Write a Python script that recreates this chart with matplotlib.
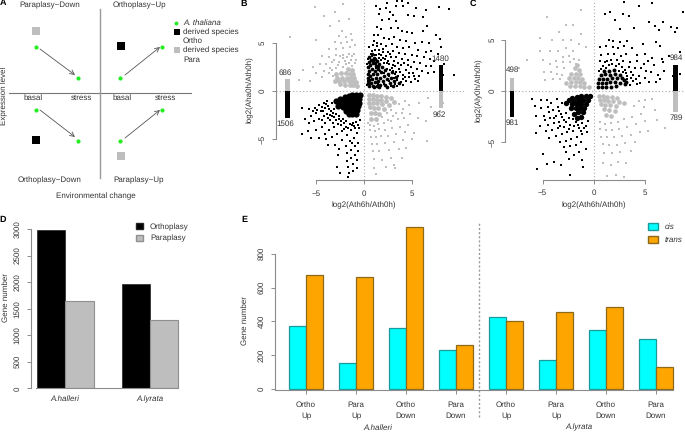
import matplotlib
matplotlib.use("Agg")
import matplotlib.pyplot as plt
from matplotlib.patches import Patch

plt.rcParams['font.family'] = ['Liberation Sans', 'DejaVu Sans']
plt.rcParams['text.hinting'] = 'no_hinting'
plt.rcParams['text.hinting_factor'] = 1
W, H = 685, 432
TXT = "#333333"; AX = "#8c8c8c"; GREY = "#bebebe"; FS = 6.1

# ---------- Panel D / E data
species = ["A.halleri", "A.lyrata"]
ortho_total = [2986, 1965]
para_total = [1648, 1287]
e_top = ["Ortho", "Para", "Ortho", "Para", "Ortho", "Para", "Ortho", "Para"]
e_bot = ["Up", "Up", "Down", "Down", "Up", "Up", "Down", "Down"]
cis_n = [372, 152, 358, 230, 424, 170, 352, 296]
trans_n = [672, 664, 960, 263, 400, 456, 483, 130]

# ---------- Panel B data, log2 ratios
b_up = [(1.2,8.9),(1.7,8.5),(1.6,8.0),(2.4,9.2),(3.4,9.4),(3.3,8.9),(3.9,9.4),(4.6,9.2),(4.1,8.9),(2.7,8.2),(2.3,8.6),(3.0,7.9),
(1.9,7.4),(2.6,7.5),(3.3,7.3),(4.6,7.9),(5.2,7.8),(6.1,7.7),(7.8,8.8),(8.8,8.5),(6.4,8.4),(5.4,8.6),(1.4,6.7),(1.8,6.5),(2.8,6.6),
(3.5,6.6),(3.9,6.2),(4.5,6.1),(5.0,6.0),(6.1,6.3),(6.5,6.8),(7.5,5.8),(7.9,5.4),(1.0,5.8),(1.5,5.8),(2.1,5.5),(2.6,5.4),(3.1,5.6),
(3.7,5.3),(4.4,5.2),(5.3,5.0),(6.0,5.1),(6.8,5.0),(8.0,4.6),(1.0,5.2),(0.9,4.8),(1.4,5.0),(1.8,4.9),(2.3,4.7),(2.9,4.9),(3.4,4.6),
(4.0,4.5),(4.7,4.6),(5.6,4.3),(6.4,4.1),(7.0,4.2),(7.7,3.9),(1.1,4.3),(1.6,4.3),(2.0,4.4),(2.5,4.1),(3.0,4.2),(3.6,4.0),(4.3,3.9),
(5.0,3.8),(5.5,3.6),(6.2,3.5),(6.9,3.3),(7.3,3.1),(0.7,3.9),(1.2,3.8),(1.8,3.7),(2.3,3.6),(2.8,3.5),(3.3,3.5),(3.9,3.3),(4.6,3.2),
(5.2,3.0),(5.8,2.9),(6.4,2.6),(7.0,2.6),(8.3,2.8),(4.2,2.9),(4.9,2.5),(5.5,2.3),(6.0,2.1),(6.6,1.9),(7.3,2.0),(8.2,1.7),(9.3,1.7),
(3.5,2.9),(3.0,2.7),(4.4,2.2),(5.1,1.9),(5.7,1.6),(4.1,1.7),(3.6,2.3),(4.7,1.5),(5.3,1.3),(4.0,1.2),(3.4,1.1),(3.0,2.1),(2.6,2.8),
(0.55,4.55),(0.83,4.12),(1.37,4.64),(1.93,4.08),(2.21,3.33),(2.67,3.87),(3.13,3.12),(0.62,3.42),(1.07,3.08),(1.53,3.41),(2.08,2.87),
(2.47,3.16),(2.93,2.43),(3.27,2.58),(3.83,2.66),(4.53,2.71),(3.71,1.94),(3.22,1.73),(2.74,2.17),(2.36,2.93),(1.73,3.19),(1.26,2.37),
(0.74,2.56),(1.04,1.63),(1.66,2.13),(2.12,1.83),(2.63,1.52),(3.07,1.37),(3.52,1.58),(4.22,1.42),(4.63,1.87),(3.84,0.93),(3.17,0.71),
(2.58,1.03),(2.07,0.74),(1.42,0.77),(4.34,1.06),(4.83,0.92),(5.17,1.58),(5.62,1.07),(4.07,0.64),(3.47,0.53),(2.83,0.56),(0.46,2.46),
(0.63,3.03),(0.87,3.61),(1.13,3.72),(1.58,3.83),(0.37,1.03),(0.34,0.66),(0.33,2.82),(0.42,3.35),(1.94,3.42),(2.44,2.34),(3.37,1.96)]
b_up_core = [(0.5,0.5),(0.7,0.8),(0.9,0.5),(0.5,1.1),(0.8,1.3),(1.1,0.9),(1.3,0.5),(0.6,1.6),(0.9,1.8),(1.2,1.4),(1.5,1.0),(1.7,0.6),
(0.5,2.1),(0.8,2.3),(1.1,2.1),(1.4,1.8),(1.7,1.4),(2.0,1.0),(2.2,0.6),(0.6,2.7),(0.9,2.9),(1.2,2.6),(1.5,2.3),(1.8,2.0),(2.1,1.6),
(2.4,1.2),(2.7,0.8),(0.7,3.2),(1.0,3.4),(1.3,3.1),(1.6,2.8),(1.9,2.5),(2.2,2.2),(2.5,1.8),(2.8,1.4),(3.1,1.0),(2.9,2.0),(3.3,1.5),
(3.6,0.8),(0.4,0.8),(0.4,1.4),(1.0,0.4),(1.6,0.4),(2.4,0.4),(3.0,0.5),(0.4,1.8),(0.45,2.5),(0.5,3.0),(1.1,2.9),(1.45,2.6),(0.95,3.2),
(0.55,3.5),(0.8,3.9),(1.15,3.3)]
b_down = [(-6.4,-1.8),(-5.7,-1.9),(-5.1,-1.8),(-4.7,-1.5),(-4.2,-1.3),(-3.8,-1.0),(-6.1,-2.9),(-5.5,-2.6),(-5.0,-2.3),(-4.5,-2.1),
(-4.1,-1.8),(-3.7,-1.6),(-5.7,-3.3),(-5.2,-3.1),(-4.7,-2.9),(-4.2,-2.6),(-3.8,-2.4),(-3.4,-2.1),(-6.4,-4.5),(-5.8,-4.2),(-5.0,-4.1),
(-4.4,-3.7),(-4.0,-3.3),(-3.5,-3.0),(-3.1,-2.7),(-5.5,-4.9),(-4.7,-4.9),(-4.1,-4.5),(-3.6,-4.1),(-3.1,-3.8),(-2.7,-3.4),(-2.4,-3.1),
(-3.9,-5.0),(-3.3,-4.8),(-2.8,-4.5),(-2.3,-4.2),(-1.9,-3.7),(-1.5,-3.4),(-1.1,-3.3),(-3.7,-5.6),(-3.0,-5.6),(-2.3,-5.1),(-1.8,-4.6),
(-1.3,-4.1),(-0.9,-3.9),(-0.6,-3.5),(-2.6,-6.0),(-1.9,-5.7),(-1.5,-5.2),(-1.0,-4.9),(-0.7,-4.4),(-2.7,-6.7),(-1.8,-6.5),(-1.3,-6.1),
(-0.9,-5.7),(-0.6,-5.4),(-1.8,-7.3),(-1.3,-7.0),(-0.9,-6.7),(-0.6,-6.3),(-2.8,-7.9),(-1.7,-7.9),(-1.1,-7.6),(-0.7,-7.2),(-2.5,-8.5),
(-1.6,-8.5),(-1.1,-8.3),(-0.7,-8.0),(-1.7,-9.0),(-2.1,-4.0),(-2.6,-2.6),(-0.4,-3.0),(-1.2,-5.4),(-3.2,-2.3),(-2.9,-3.0),
(-3.36,-1.24),(-3.07,-1.83),(-3.62,-1.91),(-3.93,-1.37),(-4.37,-1.63),(-3.28,-2.63),(-2.87,-2.37),(-3.53,-2.53),(-2.63,-2.93),(-2.23,-2.87),
(-1.83,-3.13),(-1.27,-3.57),(-0.83,-3.23),(-1.63,-3.83),(-2.43,-3.53),(-3.23,-3.33),(-2.03,-3.37),(-0.53,-3.82),(-1.07,-3.67),(-3.73,-2.83),
(-4.23,-2.13),(-4.83,-1.93),(-5.33,-2.07),(-4.37,-3.07)]
b_down_core = [(-0.4,-0.4),(-0.8,-0.4),(-1.2,-0.4),(-1.6,-0.5),(-2.0,-0.6),(-0.5,-0.8),(-0.9,-0.8),(-1.3,-0.8),(-1.7,-0.9),(-2.1,-0.9),
(-2.5,-0.8),(-0.5,-1.2),(-0.9,-1.2),(-1.3,-1.2),(-1.7,-1.3),(-2.1,-1.3),(-2.5,-1.2),(-2.9,-1.0),(-0.6,-1.6),(-1.0,-1.6),(-1.4,-1.6),
(-1.8,-1.7),(-2.2,-1.7),(-2.7,-1.6),(-0.7,-2.0),(-1.1,-2.0),(-1.5,-2.0),(-1.9,-2.1),(-0.8,-2.4),(-1.2,-2.4),(-1.6,-2.4)]
b_para_ul = [(-2.3,6.2),(-2.6,5.7),(-1.9,5.6),(-1.4,5.9),(-3.0,5.1),(-2.4,5.0),(-1.8,5.1),(-1.2,5.3),(-3.6,4.4),(-2.9,4.4),(-2.2,4.5),
(-1.5,4.6),(-0.9,4.8),(-4.4,3.6),(-3.6,3.5),(-2.9,3.7),(-2.2,3.8),(-1.6,3.9),(-1.0,3.9),(-5.3,2.5),(-4.6,2.8),(-3.9,2.8),(-3.3,3.0),
(-2.6,3.0),(-2.0,3.1),(-1.4,3.2),(-0.8,3.2),(-6.3,2.2),(-5.0,1.9),(-4.2,2.1),(-3.5,2.4),(-2.9,2.4),(-1.2,2.6),(-2.2,2.5),(-7.7,5.6),
(-5.1,8.8),(-3.0,8.2),(-2.2,9.1),(-4.2,7.8),(-1.6,7.5),(-2.6,7.3),(-3.5,6.8),(-5.0,5.3),(-4.4,1.5),(-6.7,1.1),(-5.6,1.0),
(-2.14,3.42),(-1.73,3.53),(-1.23,3.67),(-2.53,3.63),(-3.13,3.27),(-2.73,2.67),(-1.87,2.83),(-1.53,2.93),(-0.97,2.87),(-3.3,2.17),(-3.67,1.83),(-3.17,1.53)]
b_para_ul_core = [(-0.7,0.5),(-1.1,0.6),(-1.5,0.6),(-2.0,0.6),(-2.5,0.7),(-0.8,0.9),(-1.2,1.0),(-1.6,1.0),(-2.1,1.0),(-2.6,1.0),(-3.0,1.0),
(-1.0,1.4),(-1.4,1.4),(-1.8,1.4),(-2.3,1.4),(-2.8,1.4),(-1.1,1.8),(-1.5,1.8),(-1.9,1.9),(-2.4,1.9),(-2.9,1.8),(-1.2,2.2),(-1.7,2.3)]
b_para_lr = [(0.6,-3.5),(1.0,-3.6),(1.5,-3.4),(2.1,-3.3),(2.8,-3.1),(3.5,-2.9),(4.2,-2.8),(0.6,-4.1),(1.1,-4.2),(1.6,-4.0),(2.2,-4.1),
(2.9,-3.9),(3.7,-3.8),(4.6,-3.5),(0.7,-4.8),(1.2,-4.8),(1.8,-4.7),(2.5,-4.7),(3.3,-4.5),(4.3,-4.3),(5.2,-4.4),(6.5,-5.2),(0.8,-5.5),
(1.4,-5.5),(2.2,-5.4),(3.1,-5.3),(4.0,-5.1),(5.0,-5.0),(0.9,-6.2),(1.6,-6.3),(2.6,-6.1),(3.6,-6.0),(4.4,-5.9),(1.0,-7.1),(1.9,-7.2),
(2.8,-7.0),(3.9,-7.0),(1.0,-8.0),(2.3,-7.9),(3.1,-7.7),(3.3,-2.3),(4.1,-1.9),(4.8,-2.4),(5.6,-2.8),(6.4,-3.1),(7.0,-1.7),(7.9,-2.1),
(5.7,-1.2),(6.6,-0.7),(8.2,-1.2),(3.2,-8.0),(1.2,-8.6),
(2.43,-2.33),(2.83,-1.93),(1.87,-2.73),(3.63,-1.37),(4.27,-1.07),(3.03,-2.57),(0.43,-3.33),(1.33,-3.13),(2.53,-2.97),(3.93,-2.27),(4.63,-1.47)]
b_para_lr_core = [(0.5,-0.4),(0.9,-0.4),(1.3,-0.5),(1.8,-0.5),(2.3,-0.6),(2.8,-0.7),(0.5,-0.8),(0.9,-0.8),(1.3,-0.9),(1.8,-0.9),(2.3,-1.0),
(3.1,-1.1),(0.5,-1.2),(0.9,-1.3),(1.4,-1.3),(1.9,-1.4),(2.6,-1.5),(0.6,-1.7),(1.0,-1.8),(1.5,-1.8),(2.1,-1.9),(0.7,-2.3),(1.1,-2.3),
(1.6,-2.4),(0.7,-2.9),(1.2,-2.9)]

# ---------- Panel C data
c_up = [(3.0,8.7),(4.4,8.3),(5.7,8.6),(1.6,7.7),(1.1,7.5),(2.9,7.5),(3.4,7.3),(2.1,6.9),(5.4,6.7),(6.0,6.4),(6.8,6.7),(7.5,6.3),(8.1,6.2),
(2.6,6.1),(3.9,6.2),(6.4,6.0),(7.9,5.8),(8.7,7.7),(1.5,5.0),(1.9,4.9),(2.6,4.8),(3.3,4.9),(4.8,4.6),(6.1,4.8),(0.6,4.3),(1.2,4.4),
(1.9,4.3),(2.4,4.2),(3.0,4.4),(3.7,4.2),(6.5,4.4),(8.4,3.8),(0.7,3.5),(1.4,3.6),(2.0,3.6),(2.7,3.4),(3.2,3.6),(4.2,3.5),(5.0,3.6),
(5.7,3.2),(6.7,3.1),(7.4,3.4),(0.6,2.9),(1.1,2.8),(1.7,3.0),(2.3,3.0),(2.9,2.9),(3.5,2.8),(4.2,2.9),(4.9,2.6),(5.3,2.9),(5.9,2.5),
(6.8,2.8),(0.9,2.4),(1.5,2.5),(2.2,2.4),(2.8,2.3),(3.4,2.3),(4.0,2.2),(4.6,2.2),(5.1,2.0),(5.6,1.9),(6.3,1.6),(6.9,2.0),(7.7,1.5),
(8.4,1.7),(3.2,1.8),(3.8,1.6),(4.4,1.5),(5.0,1.3),(5.4,0.9),(6.1,0.9),(4.5,0.8),(3.8,1.0),(3.3,1.2),(6.5,1.2),
(1.23,2.27),(1.77,2.63),(2.47,2.63),(3.07,2.07),(3.63,1.87),(2.43,1.93),(2.87,1.87),(3.27,1.43),(3.63,1.27),(4.13,1.13),(1.27,2.93),(0.73,2.13),(0.53,1.93),(4.23,0.67),(3.53,0.57)]
c_up_core = [(0.4,0.4),(0.8,0.4),(1.2,0.4),(1.7,0.4),(2.2,0.5),(0.4,0.8),(0.8,0.8),(1.2,0.8),(1.6,0.9),(2.1,0.9),(2.6,0.8),(3.1,0.7),(0.5,1.2),
(0.9,1.2),(1.3,1.2),(1.8,1.3),(2.3,1.3),(2.8,1.3),(3.2,0.9),(0.7,1.6),(1.1,1.7),(1.6,1.6),(2.1,1.7),(2.6,1.6),(1.0,2.0),(1.5,2.0),(2.0,2.1),(3.0,1.1)]
c_down = [(-6.0,-0.8),(-5.7,-1.5),(-5.1,-0.9),(-4.6,-0.9),(-4.2,-1.2),(-3.6,-0.8),(-5.1,-1.7),(-4.5,-1.6),(-4.0,-1.9),(-3.5,-1.6),(-3.1,-1.2),
(-5.6,-2.4),(-4.9,-2.4),(-4.3,-2.6),(-3.7,-2.4),(-3.2,-2.2),(-5.6,-4.1),(-5.2,-3.4),(-4.5,-3.3),(-3.9,-3.1),(-3.4,-3.0),(-2.9,-2.8),
(-4.7,-3.9),(-4.1,-3.8),(-3.5,-3.6),(-2.9,-3.5),(-2.3,-3.3),(-1.7,-3.0),(-5.0,-6.2),(-4.4,-4.6),(-3.7,-4.4),(-3.1,-4.2),(-2.6,-4.0),(-2.0,-3.9),
(-1.4,-3.6),(-0.8,-3.4),(-3.3,-5.0),(-2.7,-4.9),(-2.2,-4.7),(-1.6,-4.5),(-1.1,-4.2),(-0.7,-4.0),(-2.9,-5.5),(-2.3,-5.4),(-1.7,-5.3),(-1.2,-5.0),
(-5.5,-7.6),(-4.6,-7.1),(-3.9,-6.9),(-3.2,-7.2),(-2.4,-6.6),(-1.9,-6.3),(-1.4,-6.0),(-2.7,-6.0),(-1.1,-6.7),(-0.8,-5.7),(-2.3,-8.2),(-1.0,-7.4),
(-1.5,-3.3),(-2.4,-2.6),(-0.6,-2.9),(-1.1,-3.1),(-2.0,-2.7),
(-3.37,-1.93),(-3.13,-2.57),(-2.73,-2.17),(-2.73,-3.07),(-3.27,-3.47),(-1.97,-3.43),(-2.43,-3.67),(-1.23,-3.87),(-0.97,-3.63),(-3.87,-2.67),(-4.33,-2.03),(-4.77,-2.87)]
c_down_core = [(-0.4,-0.5),(-0.8,-0.5),(-1.2,-0.5),(-1.6,-0.6),(-2.1,-0.7),(-0.6,-0.9),(-1.0,-0.9),(-1.4,-0.9),(-1.9,-1.0),(-2.4,-0.9),(-0.8,-1.3),
(-1.2,-1.3),(-1.6,-1.3),(-2.1,-1.3),(-2.7,-1.2),(-0.9,-1.7),(-1.3,-1.7),(-1.7,-1.7),(-2.2,-1.7),(-1.0,-2.1),(-1.5,-2.1),(-1.9,-2.2),(-1.2,-2.5),(-1.6,-2.6)]
c_para_ul = [(-3.0,3.3),(-2.4,3.4),(-1.9,3.1),(-1.4,3.0),(-3.7,2.9),(-3.0,2.8),(-2.3,2.8),(-1.7,2.6),(-5.0,3.0),(-4.3,2.6),(-3.6,2.3),(-2.9,2.2),
(-4.9,1.9),(-4.2,1.9),(-3.6,1.7),(-4.8,1.1),(-4.0,1.2),(-3.3,1.2),(-5.2,3.9),(-4.3,3.9),(-3.5,3.9),(-2.7,4.2),(-2.0,3.9),(-3.0,5.0),(-2.2,5.0),
(-1.4,4.6),(-5.2,5.2),(-4.1,5.0),(-3.4,5.8),(-2.7,6.5),(-2.0,6.5),(-1.2,7.9),(-1.2,5.6),(-0.8,4.3),(-4.6,7.2),(-6.5,3.0),(-7.3,2.2),(-3.1,1.6)]
c_para_ul_core = [(-0.5,0.4),(-0.9,0.4),(-1.3,0.5),(-1.8,0.5),(-2.3,0.5),(-0.9,0.8),(-1.3,0.9),(-1.7,0.9),(-2.2,0.9),(-2.7,0.8),(-1.1,1.2),(-1.5,1.3),
(-1.9,1.3),(-2.4,1.3),(-1.3,1.7),(-1.7,1.7),(-2.2,1.7),(-1.4,2.1),(-1.8,2.2),(-1.6,2.5)]
c_para_lr = [(0.6,-3.0),(1.1,-3.2),(1.7,-3.1),(2.4,-3.0),(3.0,-2.7),(3.7,-2.5),(4.6,-2.2),(0.6,-3.7),(1.2,-3.8),(1.8,-3.8),(2.5,-3.7),(3.3,-3.5),(4.1,-3.2),
(5.0,-2.9),(0.7,-4.5),(1.3,-4.5),(2.0,-4.5),(2.8,-4.4),(3.6,-4.3),(4.5,-4.0),(5.3,-3.9),(0.9,-5.2),(1.5,-5.3),(2.3,-5.3),(3.1,-5.1),(4.0,-5.0),(1.0,-6.1),
(1.8,-6.1),(2.6,-6.0),(3.6,-5.9),(0.9,-7.0),(1.7,-7.2),(2.4,-6.9),(3.2,-7.0),(1.3,-8.3),(2.2,-8.2),(3.0,-8.4),(4.9,-1.6),(5.0,-0.9),(6.0,-1.9),(6.2,-2.8),
(5.7,-0.8),(7.0,-3.6),(3.9,-1.5),(4.4,-1.0)]
c_para_lr_core = [(0.5,-0.5),(0.9,-0.5),(1.3,-0.6),(1.8,-0.6),(2.3,-0.7),(0.6,-0.9),(1.0,-0.9),(1.4,-1.0),(1.9,-1.0),(2.5,-1.1),(0.7,-1.3),(1.1,-1.4),
(1.6,-1.4),(2.2,-1.5),(3.0,-1.2),(1.0,-1.8),(1.5,-1.9),(2.1,-2.0),(1.2,-2.3),(1.7,-2.4)]

# panel B/C marginal bars: para up, ortho down, ortho up, para down
b_counts = [686, 1506, 1480, 962]
c_counts = [498, 981, 984, 789]

fig = plt.figure(figsize=(W/100, H/100), dpi=100)

def axes_px(l, t, r, b):
    return fig.add_axes([l/W, 1-b/H, (r-l)/W, (b-t)/H])

def px(x, y, s, **k):
    k.setdefault('fontsize', FS); k.setdefault('color', TXT)
    k.setdefault('ha', 'center'); k.setdefault('va', 'center')
    fig.text(x/W, 1-y/H, s, **k)

def style(ax):
    for s in ['top', 'right']:
        ax.spines[s].set_visible(False)
    for s in ['left', 'bottom']:
        ax.spines[s].set_color(AX); ax.spines[s].set_linewidth(0.8)
    ax.patch.set_alpha(0)
    ax.tick_params(colors=TXT, labelsize=FS, length=3, width=0.7, color=AX, pad=2)
    for t in ax.get_yticklabels():
        t.set_rotation(90); t.set_va('center')

# ---------- Panel A
axA = axes_px(0, 0, 230, 215)
axA.set_xlim(-100, 130); axA.set_ylim(-122, 93); axA.axis('off')
axA.plot([-91, 91], [0, 0], color="#777777", lw=0.8)
axA.plot([0, 0], [-85, 84], color="#999999", lw=1.0)
arrow_from = [(-60, 44), (-60, -17), (25, 18), (25, -45)]
arrow_to = [(-25, 18), (-25, -44), (60, 46), (60, -17)]
green_x = [-64, -22, 20, 62, -64, -22, 20, 62]
green_y = [46, 15, 15, 46, -17, -48, -48, -17]
for a, b in zip(arrow_from, arrow_to):
    axA.annotate("", xy=b, xytext=a, arrowprops=dict(arrowstyle='->', color="#555555", lw=0.6, mutation_scale=8, shrinkA=0, shrinkB=0))
axA.scatter(green_x, green_y, s=9, color="#22ee22", zorder=3, linewidths=0)
axA.scatter([21, -63.5], [47, -47], s=28, marker='s', color='black', linewidths=0)
axA.scatter([-63.5, 21], [62, -63], s=28, marker='s', color=GREY, linewidths=0)
axA.scatter([76], [70], s=8, color="#22ee22", linewidths=0, clip_on=False)
axA.scatter([77], [61], s=24, marker='s', color='black', linewidths=0, clip_on=False)
axA.scatter([77], [43], s=24, marker='s', color=GREY, linewidths=0, clip_on=False)
for x, y, s in [(50, 5, "Paraplasy\u2212Down"), (139, 5, "Orthoplasy\u2212Up"), (50, 180, "Orthoplasy\u2212Down"), (139, 180, "Paraplasy\u2212Up"),
                (33, 98, "basal"), (81, 98, "stress"), (122, 98, "basal"), (165, 98, "stress"), (96, 196, "Environmental change")]:
    px(x, y, s)
px(4, 96, "Expression level", rotation=90)
px(183, 23, "A. thaliana", ha='left', style='italic')
for y, s in [(32, "derived species"), (41, "Ortho"), (50, "derived species"), (60, "Para")]:
    px(183, y, s, ha='left')

# ---------- Panels B, C
def scatter_panel(box, x0, y0, sx, sy, ups, ucore, downs, dcore, ul, ulcore, lr, lrcore, counts, barx, bar_k, bar_w, sizes, ylabel_x, ylabel):
    l, t, r, b = box
    ax = axes_px(l, t, r, b)
    ax.set_xlim((l-x0)/sx, (r-x0)/sx); ax.set_ylim((y0-b)/sy, (y0-t)/sy)
    for pts, core, c, s in [(ul, ulcore, GREY, sizes[0]), (lr, lrcore, GREY, sizes[0]), (ups, ucore, 'black', sizes[1]), (downs, dcore, 'black', sizes[2])]:
        ax.scatter([p[0] for p in pts], [p[1] for p in pts], s=1.0, color=c, marker='s', linewidths=0, clip_on=False)
        ax.scatter([p[0] for p in core], [p[1] for p in core], s=s, color=c, marker='o', linewidths=0, clip_on=False)
    ax.axhline(0, color="#aaaaaa", lw=0.8, ls=(0, (1, 2)), zorder=1)
    ax.axvline(0, color="#aaaaaa", lw=0.8, ls=(0, (1, 2)), zorder=1)
    ax.bar([barx[0]]*2, [counts[0]*bar_k, -counts[1]*bar_k], width=bar_w, color=[GREY, 'black'], zorder=3)
    ax.bar([barx[1]]*2, [counts[2]*bar_k, -counts[3]*bar_k], width=bar_w, color=['black', GREY], zorder=3, clip_on=False)
    ax.set_xticks([-5, 0, 5]); ax.set_yticks([-5, 0, 5])
    ax.set_xticklabels(["\u22125", "0", "5"]); ax.set_yticklabels(["\u22125", "0", "5"])
    ax.spines['left'].set_bounds(-5, 5); ax.spines['bottom'].set_bounds(-5, 5)
    style(ax)
    ax.tick_params(axis='x', pad=4); ax.tick_params(axis='y', pad=4)
    px(x0, 205.5, "log2(Ath6h/Ath0h)"); px(ylabel_x, y0-1, ylabel, rotation=90)
    return ax

scatter_panel((276, 0, 464, 180), 364, 91, 9.63, 9.6, b_up, b_up_core, b_down, b_down_core, b_para_ul, b_para_ul_core, b_para_lr, b_para_lr_core,
              b_counts, (-7.95, 8.0), 0.00185, 0.5, (12, 7, 20), 250, "log2(Aha0h/Ath0h)")
scatter_panel((505.5, 0, 685, 179.5), 593.7, 91, 10.24, 10.23, c_up, c_up_core, c_down, c_down_core, c_para_ul, c_para_ul_core, c_para_lr, c_para_lr_core,
              c_counts, (-8.01, 8.0), 0.0026, 0.42, (11, 8, 15), 479, "log2(Aly0h/Ath0h)")
for x, y, s in [(285, 73, "686"), (285, 124, "1506"), (440, 59, "1480"), (439, 115, "962"),
                (512, 70, "498"), (512, 123, "981"), (676, 58, "984"), (676, 118, "789")]:
    px(x, y, s)

# ---------- Panel D
axD = axes_px(31, 215, 230, 388.3)
axD.set_ylim(0, 173.3/0.0531); axD.set_xlim(31, 230)
bw = 28.3
cx = [65.3, 150]
axD.bar([c-bw/2 for c in cx], ortho_total, width=bw, color='black', edgecolor="#222222", lw=0.5)
axD.bar([c+bw/2 for c in cx], para_total, width=bw, color=GREY, edgecolor="#8f8f8f", lw=0.8)
axD.set_yticks(range(0, 3001, 500))
axD.set_xticks(cx); axD.set_xticklabels(species, style='italic')
style(axD)
axD.tick_params(axis='x', length=0, pad=5)
axD.tick_params(axis='y', pad=4)
axD.spines['left'].set_bounds(0, 3000)
axD.spines['bottom'].set_bounds(36, 178.3)
px(6, 298, "Gene number", rotation=90)
axD.legend(handles=[Patch(facecolor='black', edgecolor='#222222', label="Orthoplasy"), Patch(facecolor=GREY, edgecolor='#8f8f8f', label="Paraplasy")],
           loc='upper left', bbox_to_anchor=(0.49, 0.995), frameon=False, fontsize=FS, labelcolor=TXT,
           handlelength=0.85, handleheight=0.7, labelspacing=0.45, handletextpad=0.8)

# ---------- Panel E
axE = axes_px(274.7, 215, 685, 390.3)
axE.set_xlim((274.7-306)/50, (685-306)/50); axE.set_ylim(-1.3/0.169, 174/0.169)
gx = list(range(8))
axE.bar([g-1/6 for g in gx], cis_n, width=1/3, color="#00ffff", edgecolor="#1a9a9a", lw=0.9)
axE.bar([g+1/6 for g in gx], trans_n, width=1/3, color="#ffa500", edgecolor="#8d6a1a", lw=0.9)
axE.set_yticks(range(0, 801, 200))
axE.set_xticks(gx); axE.set_xticklabels([f"{a}\n{b}" for a, b in zip(e_top, e_bot)], linespacing=1.6)
style(axE)
axE.tick_params(axis='x', pad=5); axE.tick_params(axis='y', pad=4)
axE.spines['left'].set_bounds(0, 800); axE.spines['bottom'].set_bounds(-0.626, 7.33)
axE.plot([3.46, 3.46], [-165, 985], color="#999999", lw=1.0, ls=(0, (1.5, 1.5)), clip_on=False)
px(378, 427.5, species[0], style='italic'); px(579, 427.5, species[1], style='italic')
px(244.5, 321, "Gene number", rotation=90)
axE.legend(handles=[Patch(facecolor="#00ffff", edgecolor="#1a9a9a", label="cis"), Patch(facecolor="#ffa500", edgecolor="#8d6a1a", label="trans")],
           loc='upper left', bbox_to_anchor=(0.892, 1.0), frameon=False, labelcolor=TXT, prop={'style': 'italic', 'size': FS},
           handlelength=1.1, handleheight=1.0, labelspacing=0.55, handletextpad=0.8)

for x, y, s in [(3, 3, "A"), (244, 4, "B"), (473, 4, "C"), (3, 220, "D"), (244, 220, "E")]:
    px(x, y, s, fontweight='bold', color='black', fontsize=6.2)

fig.savefig("out.png", dpi=100)
